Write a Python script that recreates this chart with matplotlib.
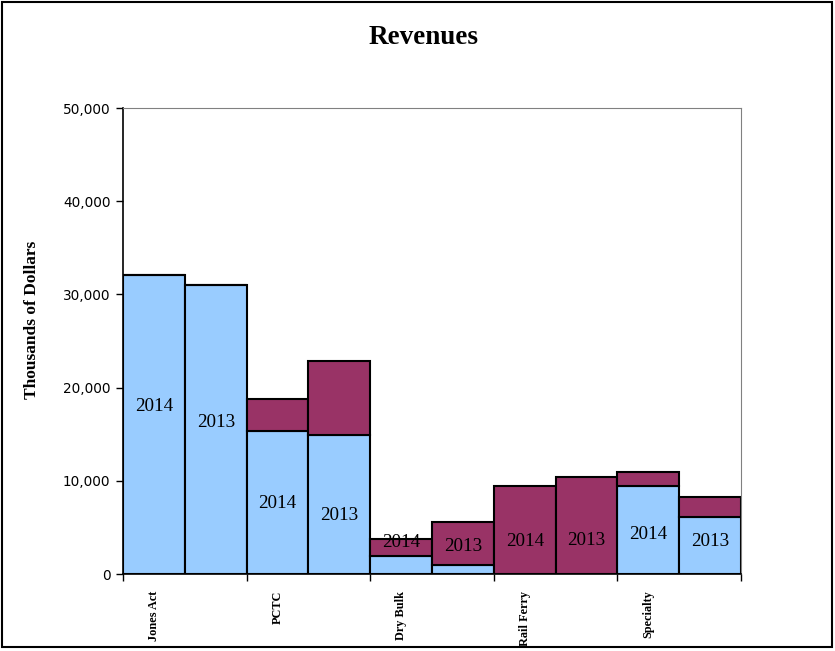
import matplotlib.pyplot as plt
from matplotlib.patches import Rectangle
from matplotlib.ticker import FuncFormatter

# Segments and years (two bars per segment: 2014, 2013)
segments = ['Jones Act', 'PCTC', 'Dry Bulk', 'Rail Ferry', 'Specialty']
years = ['2014', '2013'] * 5

# Thousands of dollars
lower_part = [32100, 31000, 15350, 14900, 1930, 970, 0, 0, 9440, 6120]
upper_part = [0, 0, 3450, 7950, 1830, 4610, 9440, 10400, 1500, 2140]

# where the year text sits inside each bar (data units)
label_y = [18000, 16300, 7600, 6300, 3400, 2900, 3500, 3600, 4200, 3500]

light_blue = '#99CCFF'
maroon = '#993366'

fig = plt.figure(figsize=(8.35, 6.51), dpi=100)
ax = fig.add_axes([123 / 835, 1 - 574 / 651, (741 - 123) / 835, (574 - 108) / 651])

x = [i + 0.5 for i in range(len(lower_part))]
ax.bar(x, lower_part, width=1.0, color=light_blue, edgecolor='black', linewidth=1.5)
ax.bar(x, upper_part, width=1.0, bottom=lower_part, color=maroon, edgecolor='black', linewidth=1.5)

for xi, yi, yr in zip(x, label_y, years):
    ax.text(xi, yi, yr, ha='center', va='center', fontsize=13.8, family='Liberation Serif')

ax.set_xlim(0, 10)
ax.set_ylim(0, 50000)
ax.set_yticks(range(0, 50001, 10000))
ax.yaxis.set_major_formatter(FuncFormatter(lambda v, p: f'{int(v):,}'))
ax.tick_params(axis='y', length=5, width=1, labelsize=9.8, pad=4)
for lab in ax.get_yticklabels():
    lab.set_family('DejaVu Sans')

ax.set_xticks(range(0, 11, 2))
ax.set_xticklabels([])
ax.set_xticks([i * 2 + 0.5 for i in range(len(segments))], minor=True)
ax.set_xticklabels(segments, minor=True, rotation=90, fontsize=8.8,
                   fontweight='bold', family='Liberation Serif',
                   ha='right', va='center', rotation_mode='anchor')
ax.tick_params(axis='x', which='major', length=5, width=1)
ax.tick_params(axis='x', which='minor', length=0, pad=12)

ax.spines['top'].set_color('#808080')
ax.spines['right'].set_color('#808080')
ax.spines['left'].set_linewidth(1.2)
ax.spines['bottom'].set_linewidth(1.2)

ax.set_ylabel('Thousands of Dollars', fontsize=12.5, fontweight='bold',
              family='Liberation Serif')
ax.yaxis.set_label_coords(-0.134, 0.545)

fig.text(424 / 835, 1 - 38 / 651, 'Revenues', ha='center', va='center',
         fontsize=19.5, fontweight='bold', family='Liberation Serif')

fig.patches.append(Rectangle((0.002, 0.006), 0.995, 0.991, transform=fig.transFigure,
                             fill=False, edgecolor='black', linewidth=1.5))

fig.savefig('out.png', dpi=100)
